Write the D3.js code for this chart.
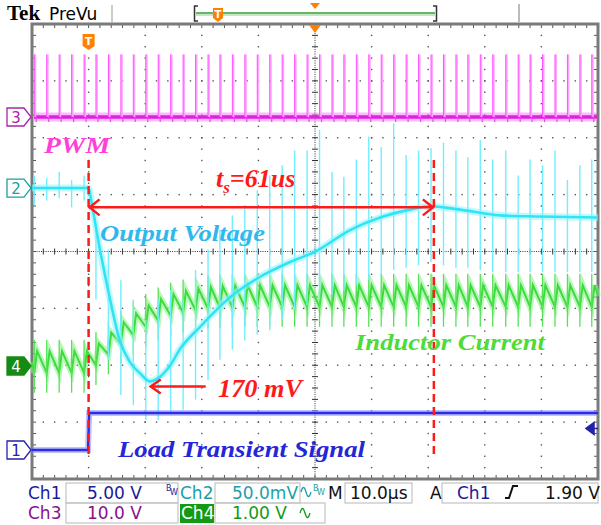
<!DOCTYPE html>
<html><head><meta charset="utf-8">
<script src="https://cdn.jsdelivr.net/npm/d3@7"></script>
<style>html,body{margin:0;background:#fff}svg{display:block}</style>
</head><body>
<svg id="scope" width="601" height="525"></svg>
<script>
// ---- acquisition settings ----
const timeDomain = [-50, 50];          // µs, 10 div × 10 µs, trigger at centre
const ch1 = {perDiv: 5,   offsetDiv: -3.49};   // load transient, V
const ch2 = {perDiv: 50,  offsetDiv: 1.116};   // output voltage deviation, mV (AC)
const ch3 = {perDiv: 10,  offsetDiv: 2.365};   // PWM, V
const ch4 = {perDiv: 1,   offsetDiv: -2.013};  // inductor current, A

// ---- switching events (µs) ----
const pulseTimes = [-49.6,-47.4,-45.2,-43.0,-40.8,-38.7,-36.5,-34.3,-32.1,-29.9,
  -27.7,-25.5,-23.3,-21.1,-18.9,-16.8,-14.6,-12.4,-10.2,-8.0,-5.8,-3.6,-1.4,0.8,
  3.0,5.1,7.3,9.5,11.7,13.9,16.1,18.3,20.5,22.7,24.9,27.0,29.2,31.4,33.7,35.9,
  38.0,40.2,42.4,44.6,46.8,48.9];
const pwmHighVolts = 11;
const pwmWidthUs = 0.35;

// ---- Ch1: load step ----
const loadTimes = [-50, -40.1, -39.9, 50];
const loadVolts = [0, 0, 3.25, 3.25];

// ---- Ch2: output voltage deviation (mV) ----
const voutTimes = [-50,-40,-39.4,-38,-36.2,-34.5,-32.7,-30.9,-29.2,-27.4,-25.6,-23.9,
  -20.3,-15,-9.7,-4.4,0,6.2,11.5,16.8,20.3,25.6,32.7,39.8,50];
const voutMv = [0,0,-15,-54,-98,-134,-153,-163,-170,-166,-156,-142,
  -122,-96,-78,-65,-56,-37,-26,-19,-16,-19,-24,-25,-26];
// switching spikes on Ch2, extremes per switching event (mV)
const voutSpikeHi = [11,9,14,7,11,-37,-54,-81,-98,-116,-98,-90,-98,-72,-54,-37,-24,-15,-2,11,
  20,33,33,51,14,10,25,45,36,57,29,33,35,40,33,27,42,25,33,11,25,20,33,7,20,25];
const voutSpikeLo = [-15,-11,-9,-17,-11,-98,-151,-182,-191,-204,-204,-199,-195,-186,-169,-151,
  -142,-134,-129,-125,-116,-107,-103,-98,-94,-90,-85,-81,-76,-72,-70,-68,-65,-68,-70,-70,
  -72,-74,-74,-74,-74,-74,-74,-74,-74,-74];

// ---- Ch4: inductor current, average level (A) ----
const iLTimes = [-50,-40.2,-39,-37,-35,-33,-31,-29,-27,-25,-22,-18,-12,0,20,50];
const iLMean  = [0.07,0.07,0.18,0.35,0.53,0.67,0.81,0.93,1.02,1.09,1.16,1.21,1.23,1.23,1.23,1.23];
const iLRipple = 0.38;
const iLSpikeUp = 0.2, iLSpikeDown = 0.35;

// ---- annotations ----
const settleStart = -40, settleEnd = 21;   // t_s = 61 µs
const dipTime = -29.2, dipMv = -170;

// ===== drawing =====
const svg = d3.select('#scope');
const X0 = 32, X1 = 598, Y0 = 24, Y1 = 479;
const x = d3.scaleLinear().domain(timeDomain).range([X0, X1]);
const yDiv = d3.scaleLinear().domain([-4, 4]).range([Y1, Y0]);
const chanY = ch => v => yDiv(ch.offsetDiv + v / ch.perDiv);
const y1 = chanY(ch1), y2 = chanY(ch2), y3 = chanY(ch3), y4 = chanY(ch4);
const divW = (X1 - X0) / 10, divH = (Y1 - Y0) / 8;
const cx = x(0), cy = yDiv(0);

// graticule
const grat = svg.append('g');
for (let i = 1; i < 10; i++) {
  if (i === 5) continue;
  for (let k = 1; k < 40; k++)
    grat.append('rect').attr('x', X0 + i * divW - 0.7).attr('y', Y0 + k * divH / 5 - 0.7)
      .attr('width', 1.4).attr('height', 1.4).attr('fill', '#555');
}
for (let j = 1; j < 8; j++) {
  if (j === 4) continue;
  for (let k = 1; k < 50; k++)
    grat.append('rect').attr('x', X0 + k * divW / 5 - 0.7).attr('y', Y0 + j * divH - 0.7)
      .attr('width', 1.4).attr('height', 1.4).attr('fill', '#555');
}
grat.append('line').attr('x1', X0).attr('x2', X1).attr('y1', cy).attr('y2', cy)
  .attr('stroke', '#333').attr('stroke-dasharray', '1,1.26');
grat.append('line').attr('x1', cx).attr('x2', cx).attr('y1', Y0).attr('y2', Y1)
  .attr('stroke', '#333').attr('stroke-dasharray', '1,1.27');
for (let k = 1; k < 50; k++) {
  const xx = X0 + k * divW / 5;
  grat.append('line').attr('x1', xx).attr('x2', xx).attr('y1', cy - 3).attr('y2', cy + 3).attr('stroke', '#333');
  grat.append('line').attr('x1', xx).attr('x2', xx).attr('y1', Y0).attr('y2', Y0 + 4).attr('stroke', '#555');
  grat.append('line').attr('x1', xx).attr('x2', xx).attr('y1', Y1 - 4).attr('y2', Y1).attr('stroke', '#555');
}
for (let k = 1; k < 40; k++) {
  const yy = Y0 + k * divH / 5;
  grat.append('line').attr('y1', yy).attr('y2', yy).attr('x1', cx - 3).attr('x2', cx + 3).attr('stroke', '#333');
  grat.append('line').attr('y1', yy).attr('y2', yy).attr('x1', X0).attr('x2', X0 + 4).attr('stroke', '#555');
  grat.append('line').attr('y1', yy).attr('y2', yy).attr('x1', X1 - 4).attr('x2', X1).attr('stroke', '#555');
}
grat.append('rect').attr('x', X0).attr('y', Y0).attr('width', X1 - X0).attr('height', Y1 - Y0)
  .attr('fill', 'none').attr('stroke', '#7a7a7a').attr('stroke-width', 3);

const traces = svg.append('g');

// Ch3 PWM
traces.append('line').attr('x1', X0 + 2).attr('x2', X1 - 1).attr('y1', y3(0)).attr('y2', y3(0))
  .attr('stroke', '#f070f0').attr('stroke-width', 9).attr('opacity', 0.45);
traces.append('line').attr('x1', X0 + 2).attr('x2', X1 - 1).attr('y1', y3(0)).attr('y2', y3(0))
  .attr('stroke', '#e020e0').attr('stroke-width', 3.5);
traces.selectAll('.pw').data(pulseTimes).join('rect').attr('class', 'pw')
  .attr('x', d => x(d)).attr('y', y3(pwmHighVolts))
  .attr('width', x(pwmWidthUs) - x(0)).attr('height', y3(0) - y3(pwmHighVolts))
  .attr('fill', '#ffa6ff');
traces.selectAll('.pwe').data(pulseTimes).join('line').attr('class', 'pwe')
  .attr('x1', d => x(d)).attr('x2', d => x(d))
  .attr('y1', y3(pwmHighVolts)).attr('y2', y3(0)).attr('stroke', '#ff50ff').attr('stroke-width', 1);
traces.selectAll('.pwd').data(pulseTimes).join('line').attr('class', 'pwd')
  .attr('x1', d => x(d + pwmWidthUs)).attr('x2', d => x(d + pwmWidthUs))
  .attr('y1', y3(0)).attr('y2', y3(-0.9)).attr('stroke', '#ee44ee').attr('stroke-width', 1.2);

// Ch4 inductor current
const meanI = d3.scaleLinear().domain(iLTimes).range(iLMean);
const iPts = [[timeDomain[0], meanI(timeDomain[0])]];
pulseTimes.forEach(t => {
  const m = meanI(t);
  iPts.push([t, m - iLRipple / 2]);
  iPts.push([t + 0.5, m + iLRipple / 2]);
});
iPts.push([timeDomain[1], meanI(timeDomain[1])]);
const lineI = d3.line().x(d => x(d[0])).y(d => y4(d[1]));
traces.append('path').attr('d', lineI(iPts)).attr('fill', 'none')
  .attr('stroke', '#8ef08e').attr('stroke-width', 6).attr('opacity', 0.6);
traces.append('path').attr('d', lineI(iPts)).attr('fill', 'none')
  .attr('stroke', '#3ddc3d').attr('stroke-width', 2);
traces.selectAll('.is').data(pulseTimes).join('line').attr('class', 'is')
  .attr('x1', d => x(d)).attr('x2', d => x(d))
  .attr('y1', d => y4(meanI(d) - iLRipple / 2 - iLSpikeDown))
  .attr('y2', d => y4(meanI(d) + iLRipple / 2 + iLSpikeUp))
  .attr('stroke', '#55e055').attr('stroke-width', 1.3);

// Ch2 output voltage
traces.selectAll('.vs').data(pulseTimes).join('line').attr('class', 'vs')
  .attr('x1', d => x(d)).attr('x2', d => x(d))
  .attr('y1', (d, i) => y2(voutSpikeHi[i])).attr('y2', (d, i) => y2(voutSpikeLo[i]))
  .attr('stroke', '#70eeff').attr('stroke-width', 1.4);
const lineV = d3.line().x((d, i) => x(voutTimes[i])).y(d => y2(d)).curve(d3.curveMonotoneX);
traces.append('path').attr('d', lineV(voutMv)).attr('fill', 'none')
  .attr('stroke', '#8ff4ff').attr('stroke-width', 7).attr('opacity', 0.55);
traces.append('path').attr('d', lineV(voutMv)).attr('fill', 'none')
  .attr('stroke', '#30e4f4').attr('stroke-width', 2.6);

// Ch1 load step
const lineL = d3.line().x((d, i) => x(loadTimes[i])).y(d => y1(d));
traces.append('path').attr('d', lineL(loadVolts)).attr('fill', 'none')
  .attr('stroke', '#8a8cff').attr('stroke-width', 6).attr('opacity', 0.55);
traces.append('path').attr('d', lineL(loadVolts)).attr('fill', 'none')
  .attr('stroke', '#2a2ee0').attr('stroke-width', 2.4);

// annotations
const red = '#ff1a1a';
const ann = svg.append('g');
[settleStart, settleEnd].forEach(t => ann.append('line')
  .attr('x1', x(t)).attr('x2', x(t)).attr('y1', 160).attr('y2', 458)
  .attr('stroke', red).attr('stroke-width', 2.5).attr('stroke-dasharray', '8,5'));
const ay = y2(-17);
ann.append('line').attr('x1', x(settleStart)).attr('x2', x(settleEnd)).attr('y1', ay).attr('y2', ay)
  .attr('stroke', red).attr('stroke-width', 2.5);
ann.append('path').attr('d', `M${x(settleStart) + 11},${ay - 8} L${x(settleStart) + 1},${ay} L${x(settleStart) + 11},${ay + 8}`)
  .attr('fill', 'none').attr('stroke', red).attr('stroke-width', 2.5);
ann.append('path').attr('d', `M${x(settleEnd) - 11},${ay - 8} L${x(settleEnd) - 1},${ay} L${x(settleEnd) - 11},${ay + 8}`)
  .attr('fill', 'none').attr('stroke', red).attr('stroke-width', 2.5);
const dy = y2(dipMv) + 5;
ann.append('line').attr('x1', x(dipTime) + 1).attr('x2', x(dipTime) + 56).attr('y1', dy).attr('y2', dy)
  .attr('stroke', red).attr('stroke-width', 2.5);
ann.append('path').attr('d', `M${x(dipTime) + 11},${dy - 7} L${x(dipTime) + 1},${dy} L${x(dipTime) + 11},${dy + 7}`)
  .attr('fill', 'none').attr('stroke', red).attr('stroke-width', 2.5);

function label(txt, x0, yb, w, color, size) {
  return svg.append('text').attr('x', x0).attr('y', yb).text(txt)
    .attr('font-family', '"Liberation Serif", "Times New Roman", serif')
    .attr('font-style', 'italic').attr('font-weight', 'bold')
    .attr('font-size', size).attr('fill', color)
    .attr('textLength', w).attr('lengthAdjust', 'spacingAndGlyphs');
}
label('PWM', 44, 153, 66, '#ff40d8', 24);
label('Output Voltage', 100, 241, 165, '#30b8ee', 24);
label('Inductor Current', 355, 350, 190, '#4edc38', 24);
label('Load Transient Signal', 118, 457, 247, '#2626d8', 24);
label('170 mV', 218, 397, 84, red, 25);
const ts = svg.append('text').attr('x', 216).attr('y', 187)
  .attr('font-family', '"Liberation Serif", "Times New Roman", serif')
  .attr('font-style', 'italic').attr('font-weight', 'bold').attr('font-size', 26).attr('fill', red);
ts.append('tspan').text('t');
ts.append('tspan').text('s').attr('font-size', 17).attr('dy', 6);
ts.append('tspan').text('=61us').attr('dy', -6);

// channel markers
function marker(label, yy, color, filled) {
  const g = svg.append('g');
  g.append('path').attr('d', `M7,${yy - 9} H24 L31,${yy} L24,${yy + 9} H7 Z`)
    .attr('fill', filled ? color : '#fff').attr('stroke', color).attr('stroke-width', 1.3);
  g.append('text').attr('x', 16).attr('y', yy + 6).attr('text-anchor', 'middle').text(label)
    .attr('font-family', '"DejaVu Sans", sans-serif').attr('font-size', 15)
    .attr('fill', filled ? '#fff' : color);
}
marker('3', y3(0), '#aa22aa', false);
marker('2', y2(0), '#1aa0a0', false);
marker('4', y4(0), '#148c14', true);
marker('1', y1(0), '#2222aa', false);

// trigger level arrow (Ch1 1.90 V)
const ty = y1(1.9);
svg.append('path').attr('d', `M586,${ty} L594,${ty - 6} L594,${ty + 6} Z M593,${ty} H598`)
  .attr('fill', '#2222aa').attr('stroke', '#2222aa').attr('stroke-width', 1.5);

// trigger position markers
const orange = '#ff8000';
svg.append('path').attr('d', `M${cx - 6},25 L${cx + 6},25 L${cx},33 Z`).attr('fill', orange);
const tx = x(settleStart);
svg.append('path').attr('d', `M${tx - 6},34 H${tx + 6} V46 L${tx},50 L${tx - 6},46 Z`).attr('fill', orange);
svg.append('text').attr('x', tx).attr('y', 45).attr('text-anchor', 'middle').text('T')
  .attr('font-family', '"DejaVu Sans", sans-serif').attr('font-weight', 'bold').attr('font-size', 11).attr('fill', '#fff');

// header
svg.append('text').attr('x', 7).attr('y', 20).text('Tek')
  .attr('font-family', '"Liberation Serif", serif').attr('font-weight', 'bold').attr('font-size', 21).attr('fill', '#000');
svg.append('text').attr('x', 49).attr('y', 20).text('PreVu')
  .attr('font-family', '"DejaVu Sans", sans-serif').attr('font-size', 17).attr('fill', '#000');
svg.append('line').attr('x1', 112).attr('x2', 112).attr('y1', 5).attr('y2', 23).attr('stroke', '#bbb').attr('stroke-width', 1.5);
svg.append('line').attr('x1', 519).attr('x2', 519).attr('y1', 4).attr('y2', 23).attr('stroke', '#bbb').attr('stroke-width', 2);
svg.append('line').attr('x1', 196).attr('x2', 435).attr('y1', 13).attr('y2', 13).attr('stroke', '#3a9a3a').attr('stroke-width', 1.5);
svg.append('line').attr('x1', 196).attr('x2', 435).attr('y1', 15).attr('y2', 15).attr('stroke', '#aee0ae').attr('stroke-width', 1.5);
svg.append('path').attr('d', 'M198,6 H194.5 V21 H198 M433,6 H436.5 V21 H433').attr('fill', 'none').attr('stroke', '#333').attr('stroke-width', 1.5);
svg.append('path').attr('d', 'M213,8 H223 V18 L218,22 L213,18 Z').attr('fill', orange);
svg.append('text').attr('x', 218).attr('y', 18).attr('text-anchor', 'middle').text('T')
  .attr('font-family', '"DejaVu Sans", sans-serif').attr('font-weight', 'bold').attr('font-size', 10).attr('fill', '#fff');
svg.append('path').attr('d', `M${cx - 5},3 H${cx + 5} L${cx},9 Z`).attr('fill', orange);

// readout panel
const ro = svg.append('g').attr('font-family', '"DejaVu Sans", Verdana, sans-serif').attr('font-size', 17);
const boxes = [[66, 483, 112, 20], [215, 483, 85, 20], [345, 483, 67, 20], [442, 483, 156, 20],
  [66, 503, 112, 20], [215, 503, 110, 20]];
ro.selectAll('rect.b').data(boxes).join('rect').attr('class', 'b')
  .attr('x', d => d[0]).attr('y', d => d[1]).attr('width', d => d[2]).attr('height', d => d[3])
  .attr('fill', 'none').attr('stroke', '#c4c4c4').attr('stroke-width', 1.2);
ro.append('rect').attr('x', 180).attr('y', 504).attr('width', 34).attr('height', 19).attr('fill', '#129a12');
const t = (s, xx, yy, c) => ro.append('text').attr('x', xx).attr('y', yy).text(s).attr('fill', c);
t('Ch1', 28, 499, '#1a1a9a');
t('5.00 V', 87, 499, '#1a1a9a');
t('Ch2', 180, 499, '#1c9fa6');
t('50.0mV', 232, 499, '#1c9fa6');
t('M', 328, 499, '#111');
t('10.0\u00b5s', 350, 499, '#111');
t('A', 430, 499, '#111');
t('Ch1', 457, 499, '#1a1a9a');
t('1.90 V', 545, 499, '#111');
t('Ch3', 28, 519, '#8a108a');
t('10.0 V', 87, 519, '#8a108a');
t('Ch4', 181, 519, '#fff');
t('1.00 V', 232, 519, '#129a12');
// bandwidth-limit flags
const bw = (xx, c) => {
  ro.append('text').attr('x', xx).attr('y', 491).text('B').attr('font-size', 8).attr('fill', c);
  ro.append('text').attr('x', xx + 4).attr('y', 495).text('W').attr('font-size', 8).attr('fill', c);
};
bw(166, '#1a1a9a');
bw(313, '#1c9fa6');
// AC coupling glyphs
const wave = (xx, yy, c) => ro.append('path')
  .attr('d', `M${xx},${yy} q2.5,-9 5,0 q2.5,9 5,0`).attr('fill', 'none').attr('stroke', c).attr('stroke-width', 1.3);
wave(301, 492, '#1c9fa6');
wave(300, 513, '#129a12');
// rising-edge glyph
ro.append('path').attr('d', 'M505,498 H509 L513,486 H518').attr('fill', 'none').attr('stroke', '#111').attr('stroke-width', 2);
</script>
</body></html>
